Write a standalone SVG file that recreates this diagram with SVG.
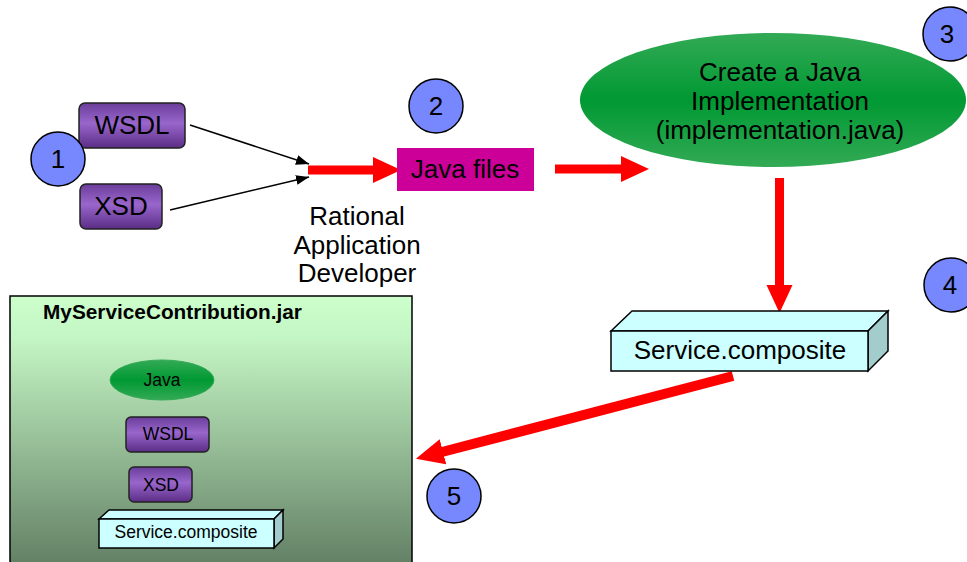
<svg xmlns="http://www.w3.org/2000/svg" width="967" height="562" viewBox="0 0 967 562">
  <defs>
    <linearGradient id="purpleGrad" x1="0" y1="0" x2="0" y2="1">
      <stop offset="0" stop-color="#6A3D9A"/>
      <stop offset="0.45" stop-color="#9966CC"/>
      <stop offset="1" stop-color="#5A2D85"/>
    </linearGradient>
    <linearGradient id="greenGrad" x1="0" y1="0" x2="0" y2="1">
      <stop offset="0" stop-color="#33AA55"/>
      <stop offset="0.5" stop-color="#009933"/>
      <stop offset="1" stop-color="#33AA55"/>
    </linearGradient>
    <linearGradient id="jarGrad" x1="0" y1="0" x2="0" y2="1">
      <stop offset="0" stop-color="#CCFFCC"/>
      <stop offset="0.15" stop-color="#C4F5C4"/>
      <stop offset="1" stop-color="#5E7A60"/>
    </linearGradient>
    <marker id="redHead" markerUnits="userSpaceOnUse" markerWidth="30" markerHeight="30" viewBox="0 0 30 30" refX="1" refY="13" orient="auto">
      <path d="M0,0 L28,13 L0,26 Z" fill="#FF0000"/>
    </marker>
    <marker id="blackHead" markerUnits="userSpaceOnUse" markerWidth="14" markerHeight="12" viewBox="0 0 14 12" refX="13" refY="5" orient="auto">
      <path d="M0,0 L13,5 L0,10 Z" fill="#000"/>
    </marker>
    <style>
      .t { font-family: "Liberation Sans", Arial, sans-serif; fill: #000; text-anchor: middle; }
      .big { font-size: 26px; }
      .small { font-size: 17.5px; }
      .num { fill: #7788FF; stroke: #000; stroke-width: 1.5; }
      .purple { fill: url(#purpleGrad); stroke: #222; stroke-width: 1.5; }
      .front { fill: #CCFFFF; stroke: #000; stroke-width: 1.5; }
      .side { fill: #A3CCCC; stroke: #000; stroke-width: 1.5; }
      .red { stroke: #FF0000; fill: none; }
      .thin { stroke: #000; stroke-width: 1.5; fill: none; }
    </style>
  </defs>

  <g id="jar">
    <rect x="10" y="296" width="402" height="280" fill="url(#jarGrad)" stroke="#000" stroke-width="1.5"/>
    <text class="t" x="43" y="319" style="font-size:20.8px;font-weight:bold;text-anchor:start">MyServiceContribution.jar</text>
  </g>
  <g id="jar-java">
    <ellipse cx="162" cy="380" rx="52" ry="20" fill="url(#greenGrad)" stroke="#33AA55" stroke-width="1"/>
    <text class="t small" x="162" y="386">Java</text>
  </g>
  <g id="jar-wsdl">
    <rect class="purple" x="126" y="417" width="83" height="35" rx="5"/>
    <text class="t small" x="168" y="440">WSDL</text>
  </g>
  <g id="jar-xsd">
    <rect class="purple" x="129" y="467" width="63" height="35" rx="5"/>
    <text class="t small" x="161" y="491">XSD</text>
  </g>
  <g id="jar-composite">
    <path class="front" d="M99,519 L109,510 L283,510 L274,519 Z"/>
    <path class="side" d="M274,519 L283,510 L283,539 L274,548 Z"/>
    <rect class="front" x="99" y="519" width="175" height="29"/>
    <text class="t small" x="186" y="538">Service.composite</text>
  </g>

  <g id="connectors">
    <line class="thin" x1="190" y1="125" x2="309" y2="164" marker-end="url(#blackHead)"/>
    <line class="thin" x1="170" y1="210" x2="309" y2="177" marker-end="url(#blackHead)"/>
    <line class="red" stroke-width="9" x1="308" y1="170" x2="374" y2="170" marker-end="url(#redHead)"/>
    <line class="red" stroke-width="9" x1="555" y1="169" x2="622" y2="169" marker-end="url(#redHead)"/>
    <line class="red" stroke-width="9" x1="779.5" y1="178" x2="779.5" y2="286" marker-end="url(#redHead)"/>
    <line class="red" stroke-width="10" x1="733" y1="376" x2="442" y2="452" marker-end="url(#redHead)"/>
  </g>

  <g id="wsdl">
    <rect class="purple" x="79" y="103" width="106" height="45" rx="6"/>
    <text class="t big" x="132" y="134">WSDL</text>
  </g>
  <g id="xsd">
    <rect class="purple" x="80" y="184" width="82" height="45" rx="6"/>
    <text class="t big" x="121" y="215">XSD</text>
  </g>
  <g id="step1">
    <circle class="num" cx="58" cy="159" r="27"/>
    <text class="t big" x="58" y="168">1</text>
  </g>
  <g id="step2">
    <circle class="num" cx="436" cy="106" r="27"/>
    <text class="t big" x="436" y="115">2</text>
  </g>
  <g id="java-files">
    <rect x="397" y="148" width="137" height="43" fill="#CC0099"/>
    <text class="t big" x="465" y="178">Java files</text>
  </g>
  <g id="rad-label">
    <text class="t big" x="357" y="225">Rational</text>
    <text class="t big" x="357" y="254">Application</text>
    <text class="t big" x="357" y="282">Developer</text>
  </g>
  <g id="implementation">
    <ellipse cx="773" cy="100" rx="193" ry="67" fill="url(#greenGrad)"/>
    <text class="t big" x="780" y="81">Create a Java</text>
    <text class="t big" x="780" y="110">Implementation</text>
    <text class="t big" x="780" y="139">(implementation.java)</text>
  </g>
  <g id="step3">
    <circle class="num" cx="950" cy="34" r="27"/>
    <text class="t big" x="947" y="43">3</text>
  </g>
  <g id="step4">
    <circle class="num" cx="951" cy="285" r="27"/>
    <text class="t big" x="950" y="294">4</text>
  </g>
  <g id="composite">
    <path class="front" d="M611,331 L632,311 L888,311 L868,331 Z"/>
    <path class="side" d="M868,331 L888,311 L888,351 L868,371 Z"/>
    <rect class="front" x="611" y="331" width="257" height="40"/>
    <text class="t big" x="740" y="359">Service.composite</text>
  </g>
  <g id="step5">
    <circle class="num" cx="454" cy="496" r="27"/>
    <text class="t big" x="454" y="505">5</text>
  </g>
</svg>
